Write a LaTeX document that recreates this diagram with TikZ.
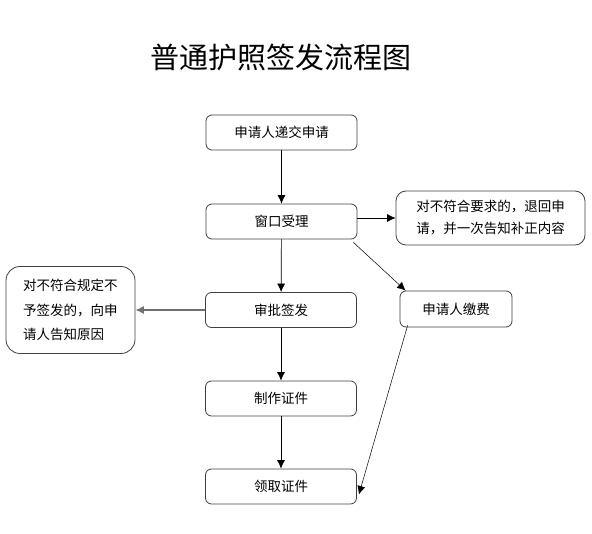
\documentclass[tikz,border=0pt]{standalone}
\usepackage{fontspec}
\setmainfont{Noto Sans CJK SC}
\usetikzlibrary{arrows.meta}
\begin{document}
\begin{tikzpicture}[x=1pt,y=-1pt,
  stepbox/.style={draw=boxcolor,line width=0.8pt,rounded corners=6pt,minimum width=151pt,minimum height=35pt,inner sep=0pt,font=\fontsize{13.5}{16}\selectfont},
  notebox/.style={draw=boxcolor,line width=0.8pt,inner sep=0pt,align=left},
  arr/.style={line width=0.7pt,-{Latex[length=8.5pt,width=8pt]}}]
 \definecolor{boxcolor}{HTML}{404040}
 \definecolor{linecolor}{HTML}{707070}
 \useasboundingbox (0,0) rectangle (592,534);
 \node at (281,57) {\fontsize{29}{32}\selectfont 普通护照签发流程图};
 \node [stepbox] (submit) at (281.5,132.5) {申请人递交申请};
 \node [stepbox] (accept) at (281.5,221.5) {窗口受理};
 \node [stepbox] (approve) at (281,310) {审批签发};
 \node [stepbox] (make) at (281,398.5) {制作证件};
 \node [stepbox] (fetch) at (281,486.5) {领取证件};
 \node [stepbox,minimum width=112pt,minimum height=36pt] (pay) at (456,309) {申请人缴费};
 \node [notebox,rounded corners=10pt,minimum width=189pt,minimum height=54pt,
   font=\fontsize{13.5}{22}\selectfont] (back) at (490.5,218) {对不符合要求的，退回申\\请，并一次告知补正内容};
 \node [notebox,rounded corners=14pt,minimum width=129pt,minimum height=87pt,
   font=\fontsize{13.5}{24.5}\selectfont] (refuse) at (70.5,310) {对不符合规定不\\予签发的，向申\\请人告知原因};
 \draw [arr] (submit) -- (accept);
 \draw [arr] (accept) -- (approve);
 \draw [arr] (approve) -- (make);
 \draw [arr] (make) -- (fetch);
 \draw [arr] (accept.east |- back.west) -- (back.west);
 \draw [arr,linecolor,line width=1.1pt] (approve) -- (refuse);
 \draw [arr,line width=0.5pt] ([xshift=-4pt,yshift=-3pt]accept.south east) -- ([xshift=6pt]pay.north west);
 \draw [arr,line width=0.5pt] ([xshift=8pt,yshift=2pt]pay.south west) -- ([xshift=2pt,yshift=-8pt]fetch.east);
\end{tikzpicture}
\end{document}
